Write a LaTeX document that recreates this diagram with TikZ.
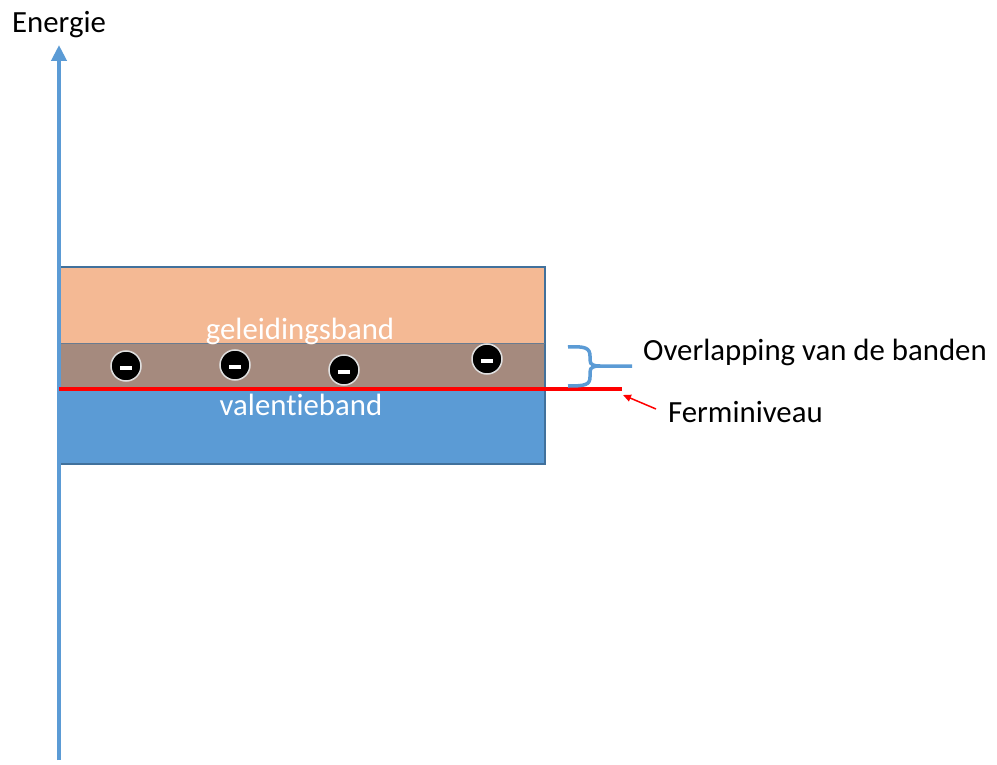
\documentclass[tikz,border=0pt]{standalone}
\usepackage{fontspec}
\setmainfont{Carlito}[Ligatures={NoCommon}]
\usetikzlibrary{arrows.meta}
\definecolor{axisblue}{HTML}{5B9BD5}
\definecolor{bandorange}{HTML}{F4B994}
\definecolor{bandbrown}{HTML}{A58A7E}
\definecolor{bandblue}{HTML}{5B9BD5}
\definecolor{edgeblue}{HTML}{41719C}
\definecolor{fermired}{HTML}{FF0000}
\tikzset{
  lbl/.style={inner sep=0pt, font=\fontsize{30.8}{33}\selectfont},
  bandlbl/.style={lbl, text=white, anchor=base},
  electron/.style={circle, fill=black, draw=black!12, line width=1.5pt, minimum size=30pt, inner sep=0pt},
  minusbar/.style={fill=white, draw=none, rectangle, minimum width=12pt, minimum height=4pt, inner sep=0pt},
}
\begin{document}
\begin{tikzpicture}[x=1pt,y=-1pt]
\useasboundingbox (0,0) rectangle (997,765);
% bands
\fill[bandorange] (58,267) rectangle (545,343);
\fill[bandbrown] (58,343) rectangle (545,389);
\fill[bandblue] (58,389) rectangle (545,464);
\draw[edgeblue, line width=1.5pt] (58,267) rectangle (545,464);
\draw[edgeblue!60!bandbrown, line width=1pt] (58,343) -- (545,343);
% axis
\coordinate (axbot) at (59,760);
\coordinate (axtop) at (59,45);
\draw[axisblue, line width=4.5pt, -{Triangle[length=16pt,width=15pt]}] (axbot) -- (axtop);
\node[lbl, anchor=base west] (energie) at (12,33) {Energie};
% labels in bands
\node[bandlbl] (geleid) at (300,339) {geleidingsband};
\node[bandlbl] (valent) at (301,415) {valentieband};
% Fermi level
\coordinate (fl) at (59,389);
\coordinate (fr) at (622,389);
\draw[fermired, line width=4pt] (fl) -- (fr);
% electrons
\foreach \n/\x/\y in {e1/126/366, e2/235/365, e3/344/370, e4/487/359}{
  \node[electron] (\n) at (\x,\y) {};
  \node[minusbar] at (\x,\y+2) {};
}
% brace
\coordinate (brtip) at (632,366);
\draw[axisblue, line width=3.5pt, line cap=butt]
  (568,347) .. controls (585,346) and (590,348) .. (590,356)
  -- (590,360) .. controls (590,365) and (594,366) .. (600,366) -- (brtip);
\draw[axisblue, line width=3.5pt]
  (600,366) .. controls (594,366) and (590,367) .. (590,372)
  -- (590,377) .. controls (590,385) and (585,386) .. (568,386);
\node[lbl, anchor=base west] (overlap) at (643,360) {Overlapping van de banden};
% Fermi label and arrow
\node[lbl, anchor=base west] (fermi) at (668,422) {Ferminiveau};
\coordinate (farrtail) at (656,409);
\coordinate (farrtip) at (623,395);
\draw[fermired, line width=1.5pt, -{Triangle[length=8pt,width=7pt]}] (farrtail) -- (farrtip);
\end{tikzpicture}
\end{document}
